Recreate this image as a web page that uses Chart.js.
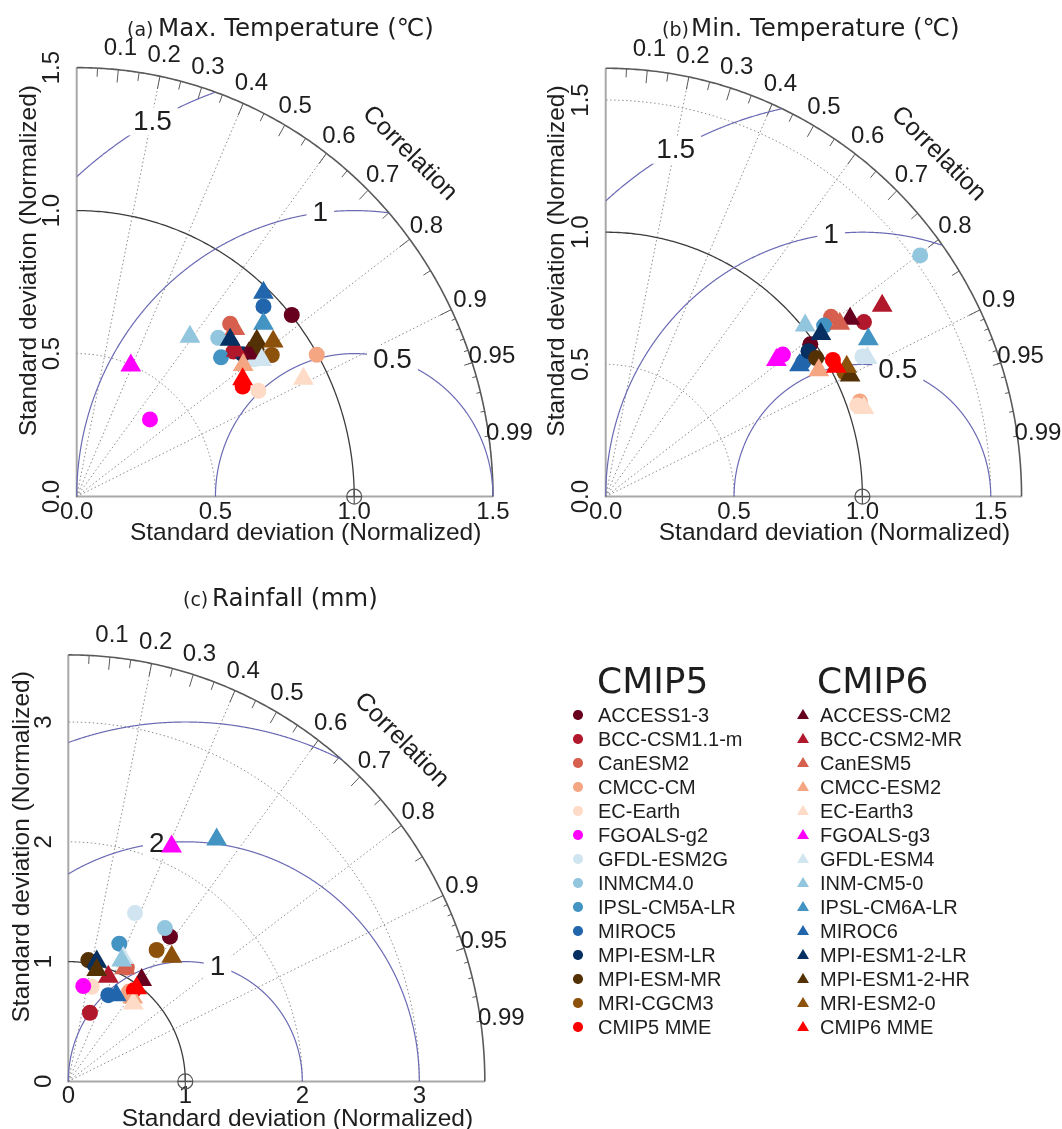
<!DOCTYPE html>
<html><head><meta charset="utf-8">
<script src="https://cdn.jsdelivr.net/npm/chart.js@4.4.1/dist/chart.umd.min.js"></script>
<style>
html,body{margin:0;padding:0;background:#ffffff;overflow:hidden;}
#wrap{position:relative;width:1062px;height:1129px;overflow:hidden;background:#fff;}
#wrap canvas{position:absolute;left:0;top:0;}
#legend{position:absolute;left:0;top:0;width:1062px;height:1129px;}
.lg{position:absolute;white-space:nowrap;color:#1e1e1e;}
.hd{font-family:'DejaVu Sans',sans-serif;font-size:36px;line-height:42px;}
.it{font-family:'Liberation Sans',Arial,sans-serif;font-size:20px;line-height:24px;}
.mk{position:absolute;}
</style></head><body><div id="wrap">
<canvas id="cA" width="1200" height="1200"></canvas>
<canvas id="cB" width="1200" height="1200"></canvas>
<canvas id="cC" width="1200" height="1200"></canvas>
<div id="legend"></div>
</div>
<script>
// ------------------ DATA ------------------
const modelsCMIP5 = ['ACCESS1-3','BCC-CSM1.1-m','CanESM2','CMCC-CM','EC-Earth','FGOALS-g2','GFDL-ESM2G','INMCM4.0','IPSL-CM5A-LR','MIROC5','MPI-ESM-LR','MPI-ESM-MR','MRI-CGCM3','CMIP5 MME'];
const modelsCMIP6 = ['ACCESS-CM2','BCC-CSM2-MR','CanESM5','CMCC-ESM2','EC-Earth3','FGOALS-g3','GFDL-ESM4','INM-CM5-0','IPSL-CM6A-LR','MIROC6','MPI-ESM1-2-LR','MPI-ESM1-2-HR','MRI-ESM2-0','CMIP6 MME'];
const modelColors = ['#67001f','#b2182b','#d6604d','#f4a582','#fddbc7','#ff00ff','#d1e5f0','#92c5de','#4393c3','#2166ac','#053061','#543005','#8c510a','#ff0000'];

// (a) Max temperature: normalized std-dev components (x, y)
const tmaxCmip5X = [0.775,0.565,0.553,0.865,0.655,0.264,0.640,0.510,0.520,0.673,0.598,0.648,0.703,0.598];
const tmaxCmip5Y = [0.635,0.507,0.604,0.496,0.370,0.270,0.480,0.555,0.487,0.665,0.498,0.515,0.495,0.385];
const tmaxCmip6X = [0.620,0.575,0.570,0.600,0.817,0.195,0.667,0.408,0.673,0.673,0.553,0.649,0.708,0.598];
const tmaxCmip6Y = [0.500,0.510,0.586,0.460,0.412,0.458,0.478,0.559,0.604,0.713,0.548,0.545,0.542,0.410];
// (b) Min temperature
const tminCmip5X = [0.797,1.006,0.878,0.990,0.980,0.690,1.000,1.225,0.851,0.770,0.790,0.820,0.930,0.885];
const tminCmip5Y = [0.576,0.660,0.680,0.360,0.345,0.537,0.530,0.912,0.647,0.510,0.550,0.524,0.470,0.517];
const tminCmip6X = [0.952,1.077,0.912,0.830,1.006,0.665,1.019,0.777,1.023,0.755,0.838,0.952,0.939,0.898];
const tminCmip6Y = [0.673,0.722,0.654,0.478,0.335,0.517,0.524,0.647,0.595,0.497,0.615,0.458,0.491,0.491];
// (c) Rainfall
const rainCmip5X = [0.869,0.185,0.500,0.520,0.200,0.128,0.570,0.826,0.436,0.342,0.220,0.171,0.755,0.560];
const rainCmip5Y = [1.208,0.573,0.950,0.750,0.790,0.796,1.405,1.280,1.150,0.720,0.980,1.013,1.097,0.760];
const rainCmip6X = [0.627,0.342,0.485,0.550,0.556,0.883,0.470,0.456,1.268,0.410,0.243,0.243,0.884,0.585];
const rainCmip6Y = [0.846,0.874,0.945,0.700,0.650,1.960,1.030,1.010,2.020,0.720,1.000,0.930,1.040,0.777];

const tmaxMaxSd = 1.5, tminMaxSd = 1.62, rainMaxSd = 3.56;
const tmaxTicks = [0, 0.5, 1.0, 1.5];
const tminTicks = [0, 0.5, 1.0, 1.5];
const rainTicks = [0, 1, 2, 3];
const tmaxRms = [0.5, 1, 1.5];
const tminRms = [0.5, 1, 1.5];
const rainRms = [1, 2, 3];
const tmaxSdArcs = [0.5, 1.5];
const tminSdArcs = [0.5, 1.5];
const rainSdArcs = [2, 3];
const corrLabels = [0.1,0.2,0.3,0.4,0.5,0.6,0.7,0.8,0.9,0.95,0.99];
const corrLines = [0.2,0.4,0.6,0.8,0.9];
const refSd = 1;

// ------------------ STYLE / LAYOUT ------------------
const panels = [
  {canvas:'cA', max:tmaxMaxSd, c5x:tmaxCmip5X, c5y:tmaxCmip5Y, c6x:tmaxCmip6X, c6y:tmaxCmip6Y,
   ticks:tmaxTicks, dec:1, rms:tmaxRms, sdArcs:tmaxSdArcs,
   title:[['(a)',127,19],['Max. Temperature (\u2103)',158,24.5]], titleBase:36,
   geo:{ox:76.7, oy:496.6, ux:277.5, uy:286, xTitleC:533, yTitleC:29}},
  {canvas:'cB', max:tminMaxSd, c5x:tminCmip5X, c5y:tminCmip5Y, c6x:tminCmip6X, c6y:tminCmip6Y,
   ticks:tminTicks, dec:1, rms:tminRms, sdArcs:tminSdArcs,
   title:[['(b)',662,19],['Min. Temperature (\u2103)',691,24.5]], titleBase:36,
   geo:{ox:605.7, oy:496.6, ux:256.7, uy:264.4, xTitleC:533, yTitleC:557}},
  {canvas:'cC', max:rainMaxSd, c5x:rainCmip5X, c5y:rainCmip5Y, c6x:rainCmip6X, c6y:rainCmip6Y,
   ticks:rainTicks, dec:0, rms:rainRms, sdArcs:rainSdArcs,
   title:[['(c)',183,19],['Rainfall (mm)',212,24.5]], titleBase:606,
   geo:{ox:68.3, oy:1081.4, ux:117, uy:119.8, xTitleC:1119, yTitleC:22}}
];
const rmsLabelAngles = [74, 97, 119];
const TXT = '#1e1e1e';
const RMS_COL = '#6a6ab4';

function makeTaylor(p){
  return {
    id:'taylor',
    beforeDatasetsDraw(chart){
      const ctx = chart.ctx, sx = chart.scales.x, sy = chart.scales.y;
      const X = v => sx.getPixelForValue(v), Y = v => sy.getPixelForValue(v);
      const M = p.max;
      const line = (pts, color, w, dash) => {
        ctx.save(); ctx.strokeStyle = color; ctx.lineWidth = w; ctx.setLineDash(dash || []);
        ctx.beginPath();
        pts.forEach((q,i) => { const a = X(q[0]), b = Y(q[1]); if (i) ctx.lineTo(a,b); else ctx.moveTo(a,b); });
        ctx.stroke(); ctx.restore();
      };
      const arcPts = (cx, r, a0, a1, n) => { const o=[]; for (let k=0;k<=n;k++){ const t=a0+(a1-a0)*k/n; o.push([cx+r*Math.cos(t), r*Math.sin(t)]);} return o; };
      // axes
      line([[0,M],[0,0],[M,0]], '#a8a8a8', 2);
      // std-dev dotted arcs
      p.sdArcs.forEach(r => line(arcPts(0,r,0,Math.PI/2,160), '#8c8c8c', 1, [1.5,2.5]));
      // correlation radial lines
      corrLines.forEach(c => line([[0,0],[M*c, M*Math.sqrt(1-c*c)]], '#8c8c8c', 1, [1.5,2.5]));
      // outer arc
      line(arcPts(0,M,0,Math.PI/2,240), '#5a5a5a', 1.6);
      // tick marks on outer arc
      const tk = (c,f) => { const a = Math.acos(c); line([[M*Math.cos(a),M*Math.sin(a)],[f*M*Math.cos(a),f*M*Math.sin(a)]], '#5a5a5a', 1); };
      for (let k=1;k<=9;k++) tk(k/10, 0.97);
      for (let k=0;k<=9;k++) tk(0.05+k/10, 0.98);
      for (let k=91;k<=99;k++) tk(k/100, 0.99);
      // reference std arc
      line(arcPts(0,refSd,0,Math.PI/2,160), '#3c3c3c', 1.3);
      // centred RMS contours
      p.rms.forEach(g => {
        const pts=[];
        for (let k=0;k<=1500;k++){ const t=Math.PI*k/1500; const x=refSd+g*Math.cos(t), y=g*Math.sin(t); if (x>=0 && x*x+y*y<=M*M) pts.push([x,y]); }
        if (pts.length>1) line(pts, RMS_COL, 1.2);
      });
      // RMS labels (boxed)
      ctx.save();
      ctx.font = '28px "Liberation Sans", Arial, sans-serif';
      ctx.textAlign='center'; ctx.textBaseline='middle';
      p.rms.forEach((g,i) => {
        const t = rmsLabelAngles[i]*Math.PI/180;
        const x = refSd+g*Math.cos(t), y = g*Math.sin(t);
        if (x<0 || x*x+y*y > M*M) return;
        const txt = String(g), w = ctx.measureText(txt).width;
        const a = X(x), b = Y(y);
        ctx.fillStyle='#ffffff'; ctx.fillRect(a-w/2-6, b-14, w+12, 28);
        ctx.fillStyle=TXT; ctx.fillText(txt, a, b+1);
      });
      ctx.restore();
      // correlation labels
      ctx.save();
      ctx.font = '24px "Liberation Sans", Arial, sans-serif';
      ctx.fillStyle = TXT; ctx.textAlign='center'; ctx.textBaseline='middle';
      corrLabels.forEach(c => { const a = Math.acos(c); ctx.fillText(String(c), X(1.05*M*Math.cos(a)), Y(1.05*M*Math.sin(a))); });
      ctx.translate(X(0.8*M), Y(0.8*M)); ctx.rotate(Math.PI/4);
      ctx.font = '25px "Liberation Sans", Arial, sans-serif';
      ctx.fillText('Correlation', 0, 0);
      ctx.restore();
      // reference point
      ctx.save();
      const rx = X(refSd), ry = Y(0);
      ctx.strokeStyle='#555'; ctx.lineWidth=1.2;
      ctx.beginPath(); ctx.arc(rx, ry, 7.5, 0, Math.PI*2); ctx.stroke();
      ctx.beginPath(); ctx.moveTo(rx-7.5,ry); ctx.lineTo(rx+7.5,ry); ctx.moveTo(rx,ry-7.5); ctx.lineTo(rx,ry+7.5); ctx.stroke();
      ctx.restore();
      // y tick labels (rotated, parallel to axis)
      ctx.save();
      ctx.font = '24px "Liberation Sans", Arial, sans-serif';
      ctx.fillStyle = TXT; ctx.textAlign='center'; ctx.textBaseline='middle';
      p.ticks.forEach(v => {
        ctx.save(); ctx.translate(X(0)-24, Y(v)); ctx.rotate(-Math.PI/2);
        ctx.fillText(v.toFixed(p.dec), 0, 0); ctx.restore();
      });
      ctx.restore();
      // panel title
      ctx.save();
      ctx.fillStyle = TXT; ctx.textAlign='left'; ctx.textBaseline='alphabetic';
      p.title.forEach(tp => { ctx.font = tp[2]+'px "DejaVu Sans", sans-serif'; ctx.fillText(tp[0], tp[1], p.titleBase); });
      ctx.restore();
    }
  };
}

panels.forEach(p => {
  const g = p.geo, lim = p.max*1.1, CW = 1200, CH = 1200;
  const areaR = g.ox + lim*g.ux, areaT = g.oy - lim*g.uy;
  const titleSize = 24.5, half = titleSize*1.2/2;
  const yLeft = g.yTitleC - half, yW = g.ox - yLeft;
  const xH = g.xTitleC - g.oy + half;
  const ds = [];
  modelsCMIP5.forEach((m,i) => ds.push({label:m, data:[{x:p.c5x[i], y:p.c5y[i]}], pointStyle:'circle', pointRadius:8, pointHoverRadius:8,
    backgroundColor:modelColors[i], borderWidth:0, clip:false, order:-i}));
  modelsCMIP6.forEach((m,i) => ds.push({label:m, data:[{x:p.c6x[i], y:p.c6y[i]}], pointStyle:'triangle', pointRadius:12, pointHoverRadius:12,
    backgroundColor:modelColors[i], borderWidth:0, clip:false, order:-(20+i)}));
  const titleFont = {family:'"Liberation Sans", Arial, sans-serif', size:titleSize};
  new Chart(document.getElementById(p.canvas), {
    type:'scatter',
    data:{datasets:ds},
    options:{
      responsive:false, animation:false, events:[],
      layout:{padding:{left:yLeft, top:areaT, right:CW-areaR, bottom:CH-g.oy-xH}},
      plugins:{legend:{display:false}, tooltip:{enabled:false}, title:{display:false}},
      scales:{
        x:{type:'linear', min:0, max:lim,
           afterBuildTicks:s => { s.ticks = p.ticks.map(v => ({value:v})); },
           afterFit:s => { s.height = xH; },
           grid:{display:false, drawTicks:false}, border:{display:false},
           ticks:{autoSkip:false, maxRotation:0, padding:1, color:TXT,
                  font:{family:'"Liberation Sans", Arial, sans-serif', size:24},
                  callback:v => Number(v).toFixed(p.dec)},
           title:{display:true, text:'Standard deviation (Normalized)', color:TXT, font:titleFont, padding:0}},
        y:{type:'linear', min:0, max:lim,
           afterFit:s => { s.width = yW; },
           grid:{display:false, drawTicks:false}, border:{display:false},
           ticks:{display:false},
           title:{display:true, text:'Standard deviation (Normalized)', color:TXT, font:titleFont, padding:0}}
      }
    },
    plugins:[makeTaylor(p)]
  });
});

// ------------------ LEGEND ------------------
(function(){
  const lg = document.getElementById('legend');
  const add = (txt, cls, left, top) => { const d=document.createElement('div'); d.className='lg '+cls; d.style.left=left+'px'; d.style.top=top+'px'; d.textContent=txt; lg.appendChild(d); };
  add('CMIP5','hd',597,660);
  add('CMIP6','hd',817,660);
  const rowY = i => 715 + 24*i;
  modelsCMIP5.forEach((m,i) => {
    add(m,'it',598,rowY(i)-11.7);
    const c=document.createElement('div'); c.className='mk';
    c.style.cssText='position:absolute;left:'+(578-4.7)+'px;top:'+(rowY(i)-4.7)+'px;width:9.4px;height:9.4px;border-radius:50%;background:'+modelColors[i]+';';
    lg.appendChild(c);
  });
  modelsCMIP6.forEach((m,i) => {
    add(m,'it',820,rowY(i)-11.7);
    const t=document.createElement('div'); t.className='mk';
    t.style.cssText='position:absolute;left:'+(802.7-6)+'px;top:'+(rowY(i)-6)+'px;width:0;height:0;border-left:6px solid transparent;border-right:6px solid transparent;border-bottom:10.5px solid '+modelColors[i]+';';
    lg.appendChild(t);
  });
})();
</script>
</body></html>
